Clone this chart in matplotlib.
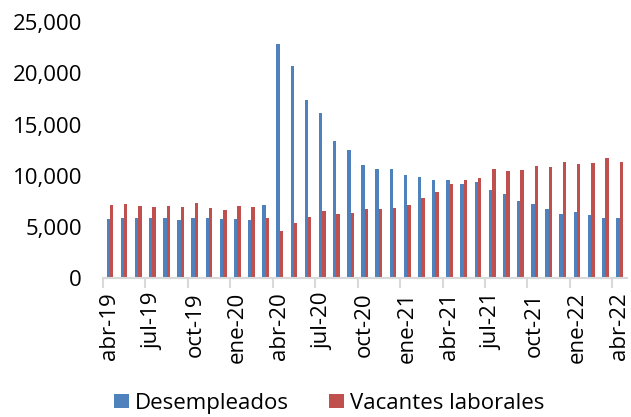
import matplotlib
matplotlib.use("Agg")
import matplotlib.pyplot as plt
import numpy as np
from matplotlib.ticker import FuncFormatter

# monthly data, abr-19 .. abr-22
months = ["abr-19", "may-19", "jun-19", "jul-19", "ago-19", "sep-19", "oct-19", "nov-19", "dic-19",
          "ene-20", "feb-20", "mar-20", "abr-20", "may-20", "jun-20", "jul-20", "ago-20", "sep-20",
          "oct-20", "nov-20", "dic-20", "ene-21", "feb-21", "mar-21", "abr-21", "may-21", "jun-21",
          "jul-21", "ago-21", "sep-21", "oct-21", "nov-21", "dic-21", "ene-22", "feb-22", "mar-22",
          "abr-22"]

desempleados = [5790, 5830, 5830, 5890, 5890, 5660, 5890, 5830, 5760, 5730, 5660, 7100,
                22820, 20730, 17410, 16110, 13380, 12470, 11000, 10640, 10670, 10060, 9860, 9570,
                9620, 9150, 9410, 8560, 8230, 7550, 7260, 6710, 6250, 6450, 6150, 5860, 5860]

vacantes = [7100, 7200, 7030, 6970, 7030, 6970, 7320, 6800, 6640, 7030, 6900, 5830,
            4650, 5370, 5960, 6510, 6250, 6380, 6770, 6740, 6840, 7130, 7780, 8370,
            9160, 9540, 9730, 10640, 10510, 10550, 10970, 10810, 11330, 11160, 11230, 11690, 11300]

plt.rcParams["font.family"] = ["Open Sans", "DejaVu Sans"]
FS = 16

fig = plt.figure(figsize=(6.31, 4.17), dpi=100)
ax = fig.add_axes([0.163, 0.333, 0.830, 0.614])

x = np.arange(len(months))
w = 0.24
ax.bar(x - w / 2, desempleados, width=w, color="#4F81BD", label="Desempleados")
ax.bar(x + w / 2, vacantes, width=w, color="#C0504D", label="Vacantes laborales")

ax.set_xlim(-0.5, len(months) - 0.5)
ax.set_ylim(0, 25000)
ax.set_yticks(range(0, 25001, 5000))
ax.yaxis.set_major_formatter(FuncFormatter(lambda v, p: f"{int(v):,}"))

# labels every 3 months, tick marks on category boundaries
ax.set_xticks(x[::3])
ax.set_xticklabels(months[::3], rotation=90)
ax.set_xticks(np.arange(-0.5, len(months), 3), minor=True)
ax.tick_params(axis="x", which="major", length=0, labelsize=FS, pad=10)
ax.tick_params(axis="x", which="minor", length=7, width=1.5, color="#d9d9d9")
ax.tick_params(axis="y", length=0, labelsize=FS, pad=15)

for s in ["top", "right", "left"]:
    ax.spines[s].set_visible(False)
ax.spines["bottom"].set_color("#d9d9d9")
ax.spines["bottom"].set_linewidth(1.5)

fig.legend(loc="center", bbox_to_anchor=(0.522, 0.033), ncol=2, frameon=False,
           fontsize=FS, handlelength=0.65, handleheight=0.65, handletextpad=0.3,
           columnspacing=1.8, borderpad=0)

fig.savefig("out.png", dpi=100)
